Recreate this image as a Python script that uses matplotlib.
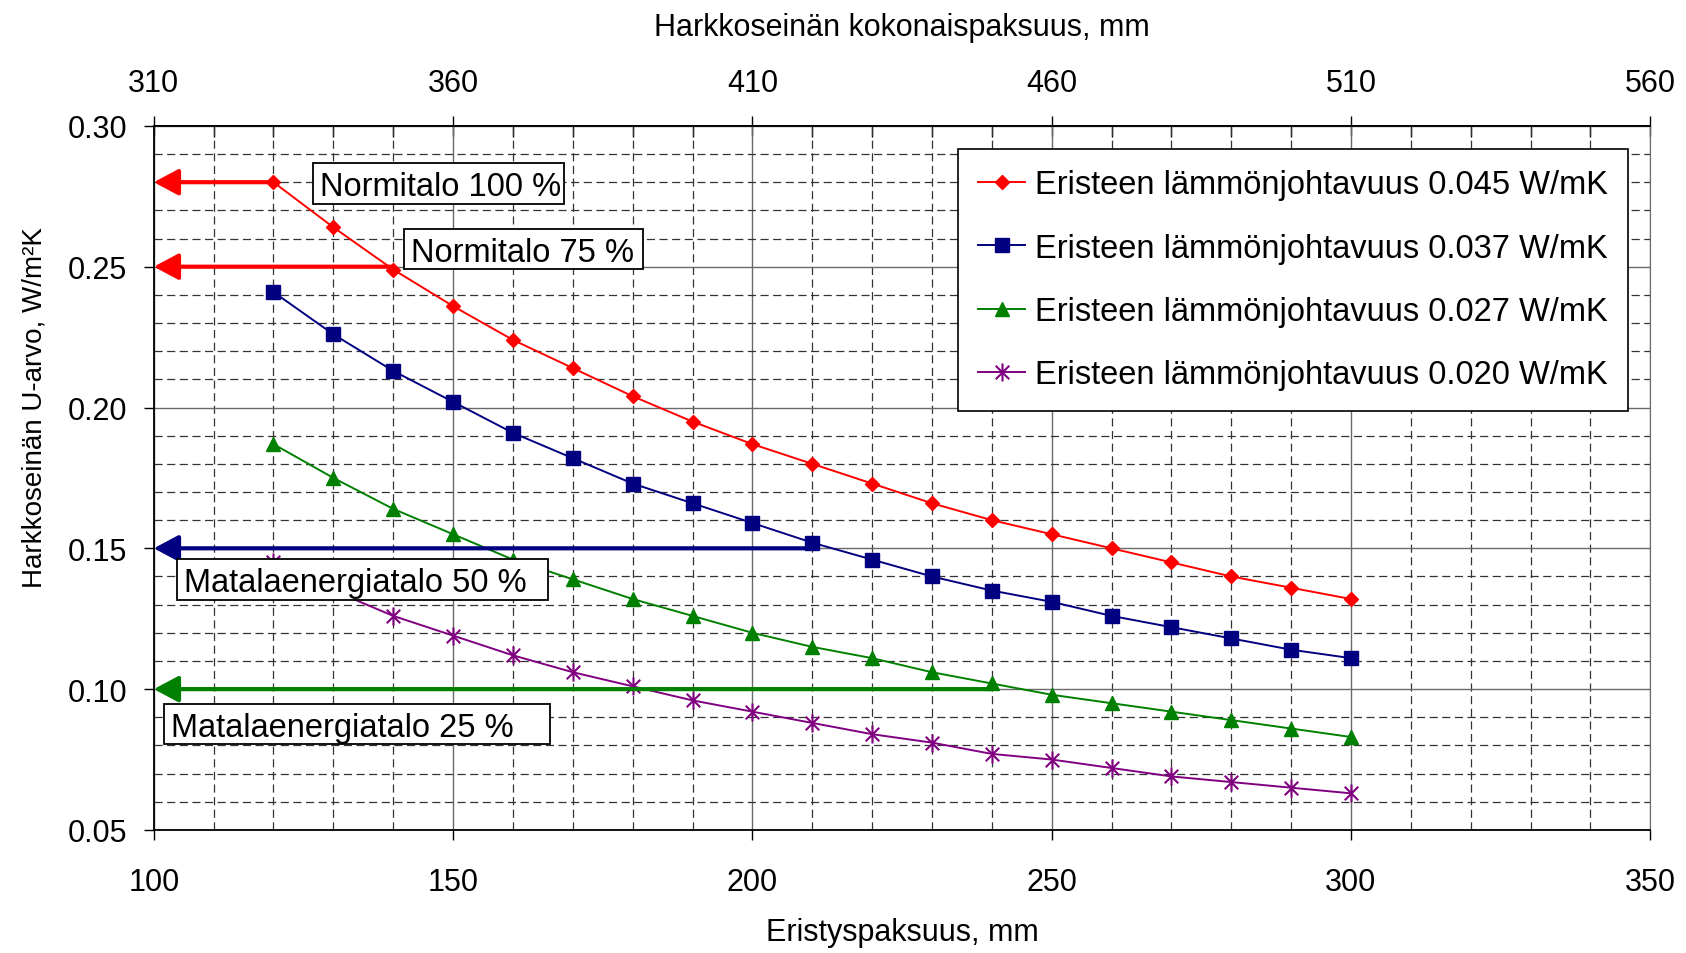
import matplotlib
matplotlib.use("Agg")
import matplotlib.pyplot as plt
from matplotlib.path import Path
from matplotlib.patches import Rectangle
from matplotlib.ticker import MultipleLocator, FixedLocator, FormatStrFormatter

plt.rcParams['font.family'] = ['Liberation Sans', 'DejaVu Sans']
plt.rcParams['font.size'] = 22

# eristyspaksuus, mm
paksuus = [120, 130, 140, 150, 160, 170, 180, 190, 200, 210,
           220, 230, 240, 250, 260, 270, 280, 290, 300]

# U-arvot eri lämmönjohtavuuksilla
u_045 = [0.280, 0.264, 0.249, 0.236, 0.224, 0.214, 0.204, 0.195, 0.187, 0.180,
         0.173, 0.166, 0.160, 0.155, 0.150, 0.145, 0.140, 0.136, 0.132]
u_037 = [0.241, 0.226, 0.213, 0.202, 0.191, 0.182, 0.173, 0.166, 0.159, 0.152,
         0.146, 0.140, 0.135, 0.131, 0.126, 0.122, 0.118, 0.114, 0.111]
u_027 = [0.187, 0.175, 0.164, 0.155, 0.146, 0.139, 0.132, 0.126, 0.120, 0.115,
         0.111, 0.106, 0.102, 0.098, 0.095, 0.092, 0.089, 0.086, 0.083]
u_020 = [0.145, 0.135, 0.126, 0.119, 0.112, 0.106, 0.101, 0.096, 0.092, 0.088,
         0.084, 0.081, 0.077, 0.075, 0.072, 0.069, 0.067, 0.065, 0.063]

sarjat = ['Eristeen lämmönjohtavuus 0.045 W/mK',
          'Eristeen lämmönjohtavuus 0.037 W/mK',
          'Eristeen lämmönjohtavuus 0.027 W/mK',
          'Eristeen lämmönjohtavuus 0.020 W/mK']

# tavoitetasot: U-arvo, paksuus johon nuoli päättyy, teksti
tasot = [0.28, 0.25, 0.15, 0.10]
tasot_x = [120, 140, 210, 240]
tasot_txt = ['Normitalo 100 %', 'Normitalo 75 %',
             'Matalaenergiatalo 50 %', 'Matalaenergiatalo 25 %']

# seinän kokonaispaksuus yläakselilla
kokonais = [310, 360, 410, 460, 510, 560]

varit = ['#ff0000', '#000080', '#008000', '#800080']

# tähti-merkki (x + pystyviiva)
tahti = Path([(0, -1), (0, 1), (-0.75, -0.75), (0.75, 0.75), (-0.75, 0.75), (0.75, -0.75)],
             [Path.MOVETO, Path.LINETO, Path.MOVETO, Path.LINETO, Path.MOVETO, Path.LINETO])

fig = plt.figure(figsize=(16.86, 9.54), dpi=100)
ax = fig.add_axes([0.0912, 0.129, 0.8876, 0.738])

ax.set_xlim(100, 350)
ax.set_ylim(0.05, 0.30)
ax.xaxis.set_major_locator(MultipleLocator(50))
ax.xaxis.set_minor_locator(MultipleLocator(10))
ax.yaxis.set_major_locator(MultipleLocator(0.05))
ax.yaxis.set_minor_locator(MultipleLocator(0.01))
ax.yaxis.set_major_formatter(FormatStrFormatter('%.2f'))

ax.grid(which='major', color='#6a6a6a', lw=1.0, ls='-')
ax.grid(which='minor', color='#333333', lw=0.9, ls=(0, (6.5, 3.6)))
ax.set_axisbelow(True)
ax.tick_params(which='major', direction='out', length=7, width=1, pad=12)
ax.tick_params(axis='x', which='major', pad=20)
ax.tick_params(which='minor', length=0)
for s in ['left', 'top', 'bottom']:
    ax.spines[s].set_color('black')
    ax.spines[s].set_linewidth(1.3)
ax.spines['right'].set_color('#6a6a6a')

ax.plot(paksuus, u_045, color=varit[0], lw=1.4, marker='D', ms=7.5, label=sarjat[0], zorder=3)
ax.plot(paksuus, u_037, color=varit[1], lw=1.4, marker='s', ms=10, label=sarjat[1], zorder=3)
ax.plot(paksuus, u_027, color=varit[2], lw=1.4, marker='^', ms=10, label=sarjat[2], zorder=3)
ax.plot(paksuus, u_020, color=varit[3], lw=1.4, marker=tahti, ms=13, mew=1.5,
        mfc='none', label=sarjat[3], zorder=3)

# nuolet tavoitetasoille
nuoli_varit = [varit[0], varit[0], varit[1], varit[2]]
for y, x, c in zip(tasot, tasot_x, nuoli_varit):
    ax.annotate('', xy=(100, y), xytext=(x, y),
                arrowprops=dict(arrowstyle='-|>,head_length=15,head_width=8',
                                color=c, lw=3, shrinkA=0, shrinkB=0, mutation_scale=1),
                annotation_clip=False, zorder=4)

# tekstilaatikot (vasen, ala, oikea, ylä)
laatikot = [(126.6, 0.2723, 168.5, 0.2869),
            (141.8, 0.2492, 181.7, 0.2634),
            (103.9, 0.1317, 165.9, 0.1462),
            (101.7, 0.0805, 166.2, 0.0947)]
for (x0, y0, x1, y1), t in zip(laatikot, tasot_txt):
    ax.add_patch(Rectangle((x0, y0), x1 - x0, y1 - y0, facecolor='white',
                           edgecolor='black', lw=1.3, zorder=5))
    ax.text(x0 + 1.2, (y0 + y1) / 2, t, ha='left', va='center_baseline',
            fontsize=23.5, zorder=6)

leg = ax.legend(loc='upper right', bbox_to_anchor=(0.9853, 0.967), borderaxespad=0,
                fancybox=False, frameon=True, edgecolor='black', framealpha=1,
                fontsize=23.5, handlelength=1.45, handletextpad=0.3,
                labelspacing=0.99, borderpad=0.62)
leg.get_frame().set_linewidth(1.2)
leg.set_zorder(10)

ax.set_xlabel('Eristyspaksuus, mm')
ax.xaxis.set_label_coords(0.5, -0.145)
ax.xaxis.label.set_va('center')
ax.set_ylabel('Harkkoseinän U-arvo, W/m²K', fontsize=20)
ax.yaxis.set_label_coords(-0.080, 0.601)
ax.yaxis.label.set_va('center')

# yläakseli: seinän kokonaispaksuus
yla = ax.secondary_xaxis('top', functions=(lambda x: x + 210, lambda x: x - 210))
yla.xaxis.set_major_locator(FixedLocator(kokonais))
yla.xaxis.set_minor_locator(MultipleLocator(10))
yla.tick_params(which='major', direction='inout', length=14, width=1, pad=13)
yla.tick_params(which='minor', direction='in', length=8, width=1)
yla.spines['top'].set_linewidth(1.3)
yla.set_xlabel('Harkkoseinän kokonaispaksuus, mm', labelpad=24)

fig.savefig('out.png', dpi=100)
